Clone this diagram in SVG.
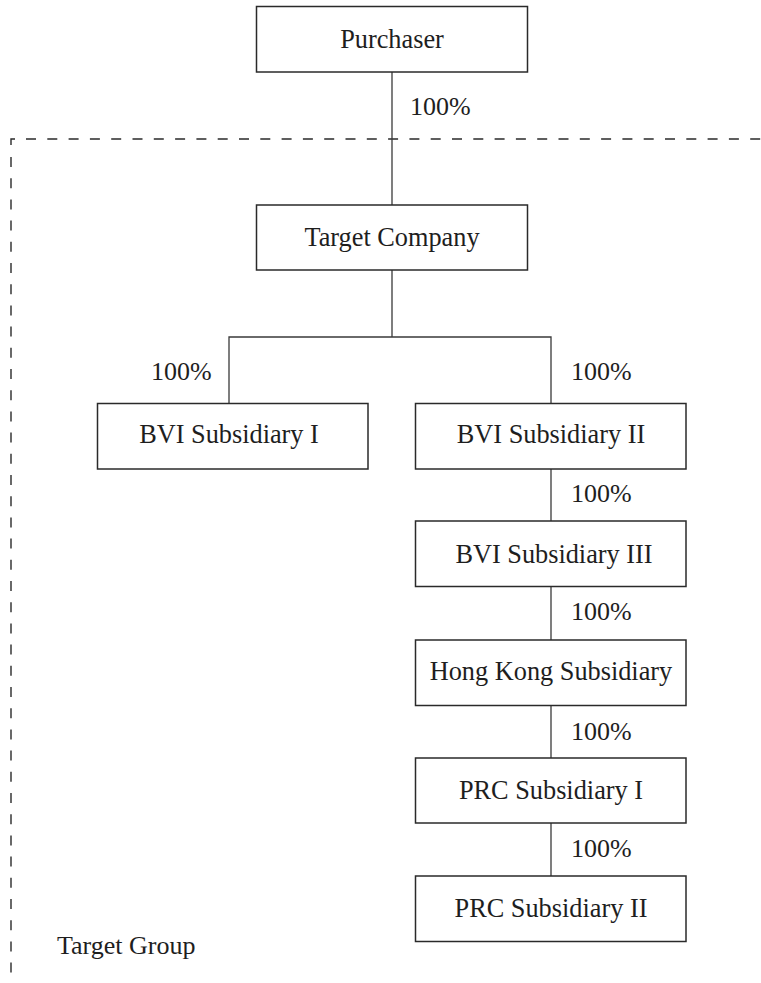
<svg xmlns="http://www.w3.org/2000/svg" width="761" height="983" viewBox="0 0 761 983">
<style>
.box{fill:#fff;stroke:#2a2a2a;stroke-width:1.5}
.lbl{font-family:"Liberation Serif","Times New Roman",serif;font-size:26.3px;fill:#1e1e1e;text-anchor:middle}
.pct{font-family:"Liberation Serif","Times New Roman",serif;font-size:26px;fill:#1e1e1e}
.conn{fill:none;stroke:#3a3a3a;stroke-width:1.3}
.dash{fill:none;stroke:#2a2a2a;stroke-width:1.4}
</style>
<rect width="761" height="983" fill="#fff"/>
<g id="boundary">
<path class="dash" d="M11,145 V139 H15"/>
<line class="dash" x1="26" y1="139" x2="761" y2="139" stroke-dasharray="10 11.3"/>
<line class="dash" x1="11" y1="157" x2="11" y2="980" stroke-dasharray="10 11.2"/>
<text class="pct" x="57" y="954">Target Group</text>
</g>
<g id="connectors">
<line class="conn" x1="392" y1="72" x2="392" y2="205"/>
<path class="conn" d="M392,270 V337 M229,403 V337 H551 V403"/>
<line class="conn" x1="551" y1="469" x2="551" y2="521"/>
<line class="conn" x1="551" y1="587" x2="551" y2="640"/>
<line class="conn" x1="551" y1="705" x2="551" y2="758"/>
<line class="conn" x1="551" y1="823" x2="551" y2="876"/>
<text class="pct" x="410" y="115">100%</text>
<text class="pct" x="151" y="380">100%</text>
<text class="pct" x="571" y="380">100%</text>
<text class="pct" x="571" y="502">100%</text>
<text class="pct" x="571" y="620">100%</text>
<text class="pct" x="571" y="740">100%</text>
<text class="pct" x="571" y="857">100%</text>
</g>
<g id="purchaser"><rect class="box" x="256.5" y="6.5" width="271" height="65.5"/><text class="lbl" x="392" y="48">Purchaser</text></g>
<g id="target-company"><rect class="box" x="256.5" y="205" width="271" height="65"/><text class="lbl" x="392" y="246">Target Company</text></g>
<g id="bvi-1"><rect class="box" x="97.5" y="403.5" width="270.5" height="65.5"/><text class="lbl" x="229" y="443">BVI Subsidiary I</text></g>
<g id="bvi-2"><rect class="box" x="415.5" y="403.5" width="270.5" height="65.5"/><text class="lbl" x="551" y="443">BVI Subsidiary II</text></g>
<g id="bvi-3"><rect class="box" x="415.5" y="521" width="270.5" height="65.5"/><text class="lbl" x="554" y="563">BVI Subsidiary III</text></g>
<g id="hk"><rect class="box" x="415.5" y="640" width="270.5" height="65.5"/><text class="lbl" x="551" y="680">Hong Kong Subsidiary</text></g>
<g id="prc-1"><rect class="box" x="415.5" y="758" width="270.5" height="65"/><text class="lbl" x="551" y="799">PRC Subsidiary I</text></g>
<g id="prc-2"><rect class="box" x="415.5" y="876" width="270.5" height="65.5"/><text class="lbl" x="551" y="917">PRC Subsidiary II</text></g>
</svg>
